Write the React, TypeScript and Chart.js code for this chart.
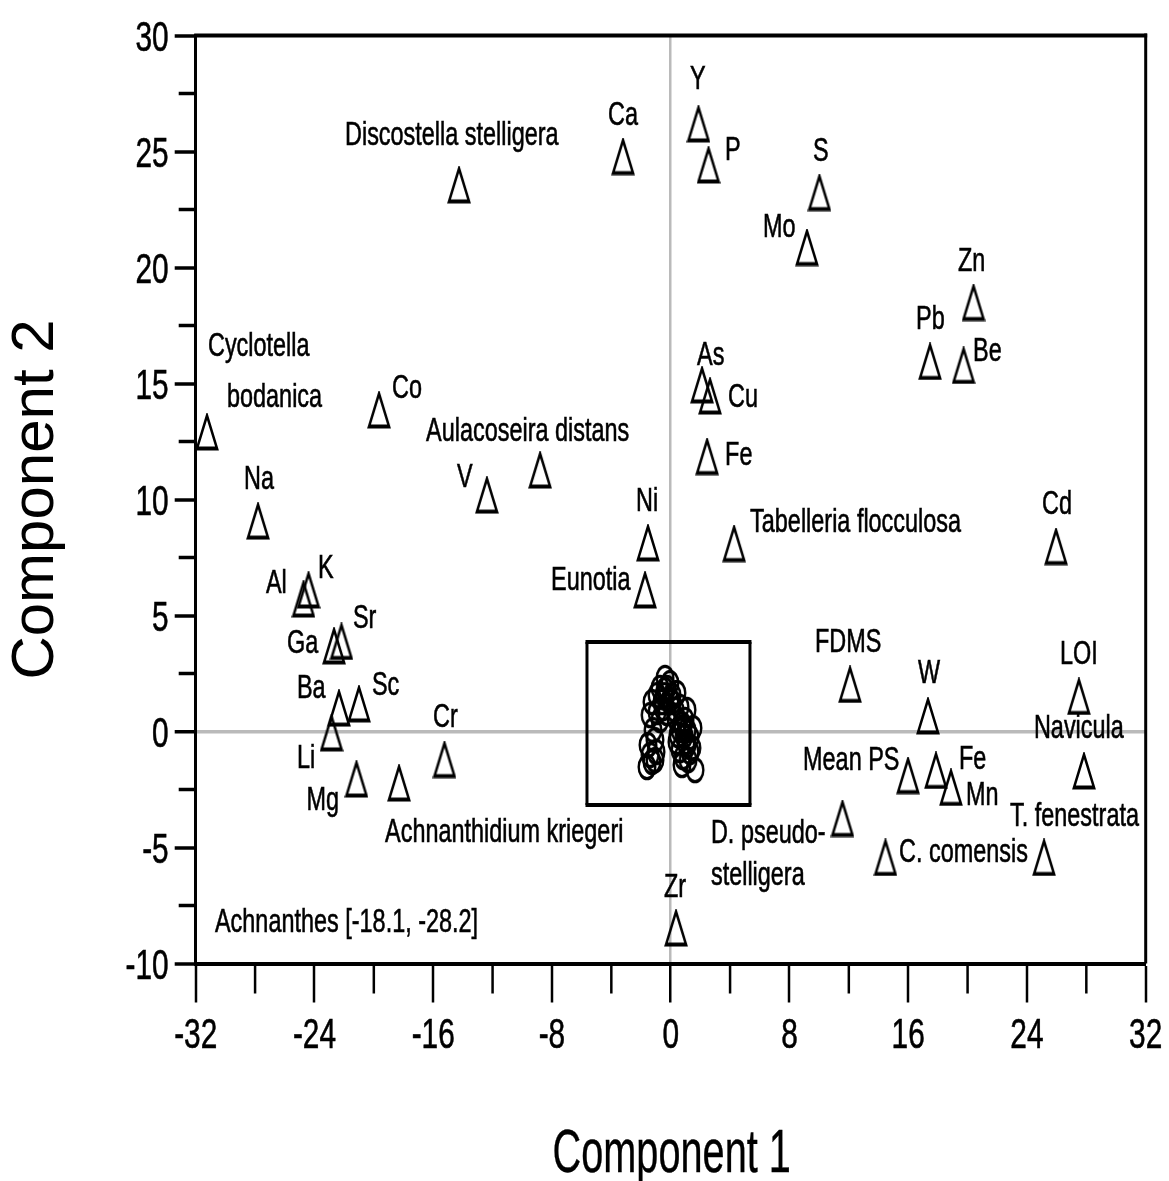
import React, { useEffect, useRef } from 'react';
import { Chart, registerables } from 'chart.js';

Chart.register(...registerables);

// ---- Data ----
const triangleLabels: string[] = [
  'Cyclotella\nbodanica', 'Na', 'Co', 'Al', 'K', 'Ga', 'Sr', 'Ba', 'Sc', 'Li', 'Mg',
  'Achnanthidium kriegeri', 'Cr', 'Discostella stelligera', 'Ca', 'Y', 'P', 'S', 'Mo',
  'Zn', 'Pb', 'Be', 'As', 'Cu', 'Fe', 'Tabelleria flocculosa', 'Cd', 'FDMS', 'W', 'LOI',
  'Navicula', 'Mean PS', 'Fe', 'Mn', 'D. pseudo-\nstelligera', 'C. comensis',
  'T. fenestrata', 'Zr', 'Ni', 'Eunotia', 'V', 'Aulacoseira distans',
];
const triangleX: number[] = [
  -31.24, -27.8, -19.65, -24.74, -24.4, -22.68, -22.18, -22.35, -21.0, -22.85, -21.17,
  -18.3, -15.24, -14.26, -3.21, 1.87, 2.55, 10.02, 9.18,
  20.4, 17.47, 19.73, 2.11, 2.65, 2.45, 4.27, 25.96, 12.08, 17.33, 27.5,
  27.84, 15.99, 17.87, 18.88, 11.57, 14.47,
  25.15, 0.36, -1.53, -1.73, -12.38, -8.8,
];
const triangleY: number[] = [
  12.91, 9.07, 13.86, 5.71, 6.1, 3.69, 3.88, 1.01, 1.19, -0.06, -2.05,
  -2.22, -1.21, 23.56, 24.78, 26.19, 24.42, 23.23, 20.86,
  18.49, 15.95, 15.78, 14.94, 14.46, 11.85, 8.1, 7.97, 2.03, 0.67, 1.51,
  -1.7, -1.9, -1.68, -2.41, -3.75, -5.43,
  -5.43, -8.47, 8.13, 6.1, 10.19, 11.27,
];
const sampleX: number[] = [
  -0.38, -0.72, -0.25, 0.42, -1.26, -0.59, 0.09, 0.63, 1.1, -0.92, -0.25, 0.96, 0.63, 1.1, 1.3,
  -1.19, -1.06, -1.53, 0.42, 1.1, -1.26, -1.6, -1.06, 0.83, 1.64, 1.3, 0.76, 0.36, -0.45, 0.9,
  -0.05, -0.92, 0.09, -0.52, 0.29, -1.39, -0.72, 0.83, 0.49, 1.03, 1.43, 0.63, 1.17, 0.76, 1.5,
  -0.05, -0.99, -1.39, -0.38,
];
const sampleY: number[] = [
  2.31, 1.88, 1.88, 1.66, 1.27, 1.27, 1.27, 1.06, 0.93, 0.84, 0.8, 0.5, 0.06, 0.06, -0.24,
  0.06, -0.37, -0.58, -0.45, -0.58, -1.31, -1.53, -1.23, -1.1, -1.66, -0.88, 0.32, 0.58, 1.57, -0.19,
  2.09, 1.57, 1.57, 1.01, 0.93, 0.71, 0.5, 0.19, -0.15, -0.45, -0.71, -0.8, -1.23, -1.44, 0.15,
  1.36, -0.88, -1.01, 1.79,
];
const xTickLabelStep = 8;
const yTickLabelStep = 5;
const zoomBox: number[] = [-5.64, 5.34, -3.17, 3.86]; // xMin, xMax, yMin, yMax
const annotationText = 'Achnanthes [-18.1, -28.2]';
const annotationAt: number[] = [-30.7, -8.64];
const xTitle = 'Component 1';
const yTitle = 'Component 2';

// ---- Layout of labels (pixel offsets of each text line from its marker) ----
const labelOffsets: number[][][] = [
  [[1, -76], [20, -25]], [[-14, -32]], [[13, -12]], [[-37.5, -6]], [[9.5, -12]], [[-47, 7]],
  [[11.5, -13.5]], [[-42, -10]], [[13, -9]], [[-34.5, 35]], [[-50, 31]],
  [[-14, 59]], [[-11.5, -32.5]], [[-114, -40]], [[-15, -31.5]], [[-8.5, -35]], [[16.5, -5]],
  [[-6.5, -31.5]], [[-44, -10.5]],
  [[-15.5, -31.5]], [[-14, -32.5]], [[9.5, -4.5]], [[-5, -20]], [[18, 11]], [[18, 8.5]],
  [[16, -11.5]], [[-14, -32.5]], [[-35, -32.5]], [[-10, -33]], [[-19, -32.5]],
  [[-50, -33]], [[-105, -5.5]], [[23, -1.5]], [[15, 17.5]], [[-131.5, 24.5], [-131.5, 66.5]],
  [[13.5, 4.5]],
  [[-34, -31.5]], [[-12, -31]], [[-12, -32]], [[-94, 0]], [[-30, -8]], [[-114, -29]],
];

const W = 1169;
const H = 1181;
const SANS = "'Liberation Sans', Arial, 'Helvetica', sans-serif";
const LABEL_FONT = `33px ${SANS}`;
const TICK_FONT = `42px ${SANS}`;
const SQUEEZE = 0.71;

function makeTriangle(): HTMLCanvasElement {
  const c = document.createElement('canvas');
  c.width = 24;
  c.height = 38;
  const g = c.getContext('2d')!;
  const k = 1.6;
  g.scale(1, k);
  g.strokeStyle = '#000';
  g.lineWidth = 2.4;
  g.lineJoin = 'miter';
  g.beginPath();
  g.moveTo(12, 1.6);
  g.lineTo(22, 22.2);
  g.lineTo(2, 22.2);
  g.closePath();
  g.stroke();
  return c;
}

function makeEllipse(): HTMLCanvasElement {
  const c = document.createElement('canvas');
  c.width = 22;
  c.height = 30;
  const g = c.getContext('2d')!;
  const k = 1.4;
  g.scale(1, k);
  g.strokeStyle = '#000';
  g.lineWidth = 2.4;
  g.beginPath();
  g.arc(11, 15 / k, 8.3, 0, Math.PI * 2);
  g.stroke();
  return c;
}

const overlayPlugin = {
  id: 'overlay',
  beforeDatasetsDraw(chart: any) {
    const { ctx, chartArea: a, scales } = chart;
    const xs = scales.x;
    const ys = scales.y;
    const line = (x1: number, y1: number, x2: number, y2: number) => {
      ctx.beginPath();
      ctx.moveTo(x1, y1);
      ctx.lineTo(x2, y2);
      ctx.stroke();
    };
    ctx.save();
    ctx.strokeStyle = '#000';
    ctx.lineCap = 'butt';
    // top and right frame
    ctx.lineWidth = 4;
    line(a.left - 1.5, a.top, a.right + 1.5, a.top);
    ctx.lineWidth = 3;
    line(a.right, a.top - 2, a.right, a.bottom);
    // minor ticks
    ctx.lineWidth = 2.5;
    xs.ticks.forEach((t: any) => {
      if (t.value % xTickLabelStep !== 0) {
        const px = xs.getPixelForValue(t.value);
        line(px, a.bottom, px, a.bottom + 30);
      }
    });
    ctx.lineWidth = 3.5;
    ys.ticks.forEach((t: any) => {
      if (t.value % yTickLabelStep !== 0) {
        const py = ys.getPixelForValue(t.value);
        line(a.left - 17, py, a.left, py);
      }
    });
    // zoom box around the sample cluster
    const bx1 = xs.getPixelForValue(zoomBox[0]);
    const bx2 = xs.getPixelForValue(zoomBox[1]);
    const by1 = ys.getPixelForValue(zoomBox[2]);
    const by2 = ys.getPixelForValue(zoomBox[3]);
    ctx.lineWidth = 4;
    line(bx1 - 1.5, by1, bx2 + 1.5, by1);
    line(bx1 - 1.5, by2, bx2 + 1.5, by2);
    ctx.lineWidth = 3;
    line(bx1, by1, bx1, by2);
    line(bx2, by1, bx2, by2);
    ctx.restore();
  },
  afterDraw(chart: any) {
    const { ctx, scales } = chart;
    const xs = scales.x;
    const ys = scales.y;
    const a = chart.chartArea;
    const drawText = (
      text: string, x: number, y: number, font: string, sx: number,
      align: CanvasTextAlign, stroke = 0.6,
    ) => {
      ctx.save();
      ctx.translate(x, y);
      ctx.scale(sx, 1);
      ctx.font = font;
      ctx.fillStyle = '#000';
      ctx.strokeStyle = '#000';
      ctx.lineWidth = stroke;
      ctx.textAlign = align;
      ctx.textBaseline = 'alphabetic';
      ctx.fillText(text, 0, 0);
      if (stroke > 0) ctx.strokeText(text, 0, 0);
      ctx.restore();
    };
    // tick labels from the library's scales
    xs.ticks.forEach((t: any) => {
      if (t.label !== '' && t.label != null) {
        drawText(String(t.label), xs.getPixelForValue(t.value), a.bottom + 84, TICK_FONT, SQUEEZE, 'center', 0.6);
      }
    });
    ys.ticks.forEach((t: any) => {
      if (t.label !== '' && t.label != null) {
        drawText(String(t.label), a.left - 27, ys.getPixelForValue(t.value) + 15, TICK_FONT, SQUEEZE, 'right', 0.6);
      }
    });
    triangleLabels.forEach((lbl, i) => {
      const px = xs.getPixelForValue(triangleX[i]);
      const py = ys.getPixelForValue(triangleY[i]);
      lbl.split('\n').forEach((ln, j) => {
        const off = labelOffsets[i][j] || labelOffsets[i][0];
        drawText(ln, px + off[0], py + off[1], LABEL_FONT, SQUEEZE, 'left');
      });
    });
    drawText(
      annotationText,
      xs.getPixelForValue(annotationAt[0]),
      ys.getPixelForValue(annotationAt[1]),
      LABEL_FONT,
      SQUEEZE,
      'left',
    );
    drawText(xTitle, (a.left + a.right) / 2 + 1, 1172, `62px ${SANS}`, 0.64, 'center', 0.4);
  },
};

export default function App() {
  const ref = useRef<HTMLCanvasElement | null>(null);
  useEffect(() => {
    if (!ref.current) return;
    const tri = makeTriangle();
    const ell = makeEllipse();
    const chart = new Chart(ref.current, {
      type: 'scatter',
      data: {
        datasets: [
          {
            label: 'Variables',
            data: triangleX.map((x, i) => ({ x, y: triangleY[i] })),
            pointStyle: tri as any,
            pointRadius: 12,
            showLine: false,
          },
          {
            label: 'Samples',
            data: sampleX.map((x, i) => ({ x, y: sampleY[i] })),
            pointStyle: ell as any,
            pointRadius: 10,
            showLine: false,
          },
        ],
      },
      options: {
        animation: false,
        responsive: false,
        devicePixelRatio: 1,
        events: [],
        layout: { padding: { left: 0, top: 35.5, right: 23.3, bottom: 0 } },
        plugins: {
          legend: { display: false },
          tooltip: { enabled: false },
          title: { display: false },
        },
        scales: {
          x: {
            type: 'linear',
            min: -32,
            max: 32,
            afterFit: (s: any) => {
              s.height = H - 963.5;
              s.paddingLeft = 0;
              s.paddingRight = 0;
            },
            border: { display: true, color: '#000', width: 4 },
            grid: {
              drawTicks: true,
              tickLength: 39,
              color: (c: any) => (c.tick && c.tick.value === 0 ? '#bababa' : 'rgba(0,0,0,0)'),
              lineWidth: (c: any) => (c.tick && c.tick.value === 0 ? 2.5 : 0),
              tickColor: (c: any) => (c.tick && c.tick.value % xTickLabelStep === 0 ? '#000' : 'rgba(0,0,0,0)'),
              tickWidth: 2.5,
            },
            ticks: {
              stepSize: 4,
              autoSkip: false,
              maxRotation: 0,
              padding: 5,
              color: 'rgba(0,0,0,0)',
              font: { family: SANS, size: 30 },
              callback: (v: any) => (Number(v) % xTickLabelStep === 0 ? String(v) : ''),
            },
            title: { display: false },
          },
          y: {
            type: 'linear',
            min: -10,
            max: 30,
            afterFit: (s: any) => {
              s.width = 195.7;
              s.paddingTop = 0;
              s.paddingBottom = 0;
            },
            border: { display: true, color: '#000', width: 3 },
            grid: {
              drawTicks: true,
              tickLength: 21,
              color: (c: any) => (c.tick && c.tick.value === 0 ? '#bababa' : 'rgba(0,0,0,0)'),
              lineWidth: (c: any) => (c.tick && c.tick.value === 0 ? 3.5 : 0),
              tickColor: (c: any) => (c.tick && c.tick.value % yTickLabelStep === 0 ? '#000' : 'rgba(0,0,0,0)'),
              tickWidth: 3.5,
            },
            ticks: {
              stepSize: 2.5,
              autoSkip: false,
              padding: 6,
              color: 'rgba(0,0,0,0)',
              font: { family: SANS, size: 30 },
              callback: (v: any) => (Number(v) % yTickLabelStep === 0 ? String(v) : ''),
            },
            title: {
              display: true,
              text: yTitle,
              color: '#000',
              padding: 0,
              font: { family: SANS, size: 60 },
            },
          },
        },
      },
      plugins: [overlayPlugin],
    });
    return () => chart.destroy();
  }, []);
  return (
    <div style={{ position: 'fixed', left: 0, top: 0, width: W, height: H, background: '#fff' }}>
      <canvas ref={ref} width={W} height={H} style={{ display: 'block', width: W, height: H }} />
    </div>
  );
}
